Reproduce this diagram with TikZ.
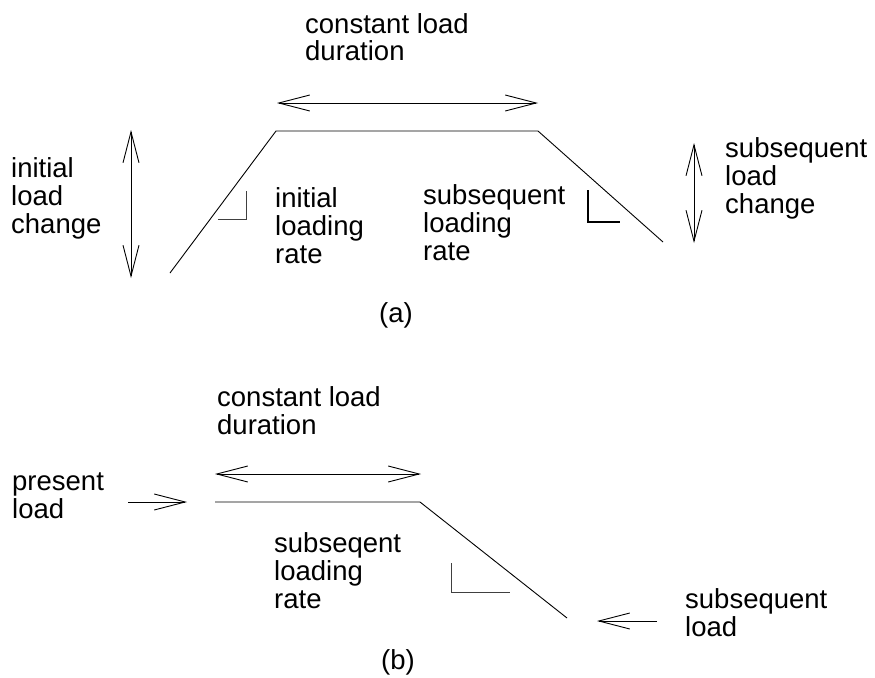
\documentclass[tikz,border=0pt]{standalone}
\usepackage{fontspec}
\setmainfont{Liberation Sans}
\usetikzlibrary{arrows.meta}
\tikzset{
  lbl/.style={anchor=base west, align=left, inner sep=0pt, font=\fontsize{27.5}{27.7}\selectfont},
  subcaption/.style={anchor=base, inner sep=0pt, font=\fontsize{27.5}{27.7}\selectfont},
  ln/.style={line width=0.9pt, black},
  dbl/.style={ln, {Straight Barb[length=31pt,width=16pt]}-{Straight Barb[length=31pt,width=16pt]}},
  sgl/.style={ln, -{Straight Barb[length=31pt,width=16pt]}},
  anglemark/.style={line width=1pt, black!75},
  thickmark/.style={line width=2.6pt, black}
}
\begin{document}
\begin{tikzpicture}[x=1pt,y=-1pt]
\useasboundingbox (0,0) rectangle (875,677);
% ---------- (a) ----------  (node positions = baseline of last line)
\node[lbl] (ta1) at (305,61) {constant load\\duration};
\coordinate (da1) at (277,103); \coordinate (da2) at (538,103);
\draw[dbl] (da1) -- (da2);
\coordinate (p1) at (170,273); \coordinate (p2) at (276,131);
\coordinate (p3) at (538,131); \coordinate (p4) at (663,242);
\draw[ln] (p1) -- (p2) -- (p3) -- (p4);
\node[lbl] (ta2) at (11,233) {initial\\load\\change};
\coordinate (va1) at (131,130); \coordinate (va2) at (131,278);
\draw[dbl] (va1) -- (va2);
\node[lbl] (ta3) at (275,263) {initial\\loading\\rate};
\coordinate (m1) at (246,191); \coordinate (m2) at (246,219); \coordinate (m3) at (218,219);
\draw[anglemark] (m1) -- (m2) -- (m3);
\node[lbl] (ta4) at (423,260) {subsequent\\loading\\rate};
\coordinate (n1) at (588,190); \coordinate (n2) at (588,222); \coordinate (n3) at (620,222);
\draw[thickmark] (n1) -- (n2) -- (n3);
\coordinate (vb1) at (694,143); \coordinate (vb2) at (694,243);
\draw[dbl] (vb1) -- (vb2);
\node[lbl] (ta5) at (725,213) {subsequent\\load\\change};
\node[subcaption] (capa) at (396,322) {(a)};
% ---------- (b) ----------
\node[lbl] (tb1) at (217,434) {constant load\\duration};
\coordinate (db1) at (215,474); \coordinate (db2) at (421,474);
\draw[dbl] (db1) -- (db2);
\node[lbl] (tb2) at (12,518) {present\\load};
\coordinate (ap1) at (128,502); \coordinate (ap2) at (187,502);
\draw[sgl] (ap1) -- (ap2);
\coordinate (q1) at (215,502); \coordinate (q2) at (420,502); \coordinate (q3) at (567,618);
\draw[ln] (q1) -- (q2) -- (q3);
\node[lbl] (tb3) at (274,608) {subseqent\\loading\\rate};
\coordinate (r1) at (451,563); \coordinate (r2) at (451,592); \coordinate (r3) at (510,592);
\draw[anglemark] (r1) -- (r2) -- (r3);
\coordinate (as1) at (657,621); \coordinate (as2) at (597,621);
\draw[sgl] (as1) -- (as2);
\node[lbl] (tb4) at (685,636) {subsequent\\load};
\node[subcaption] (capb) at (398,669) {(b)};
\end{tikzpicture}
\end{document}
